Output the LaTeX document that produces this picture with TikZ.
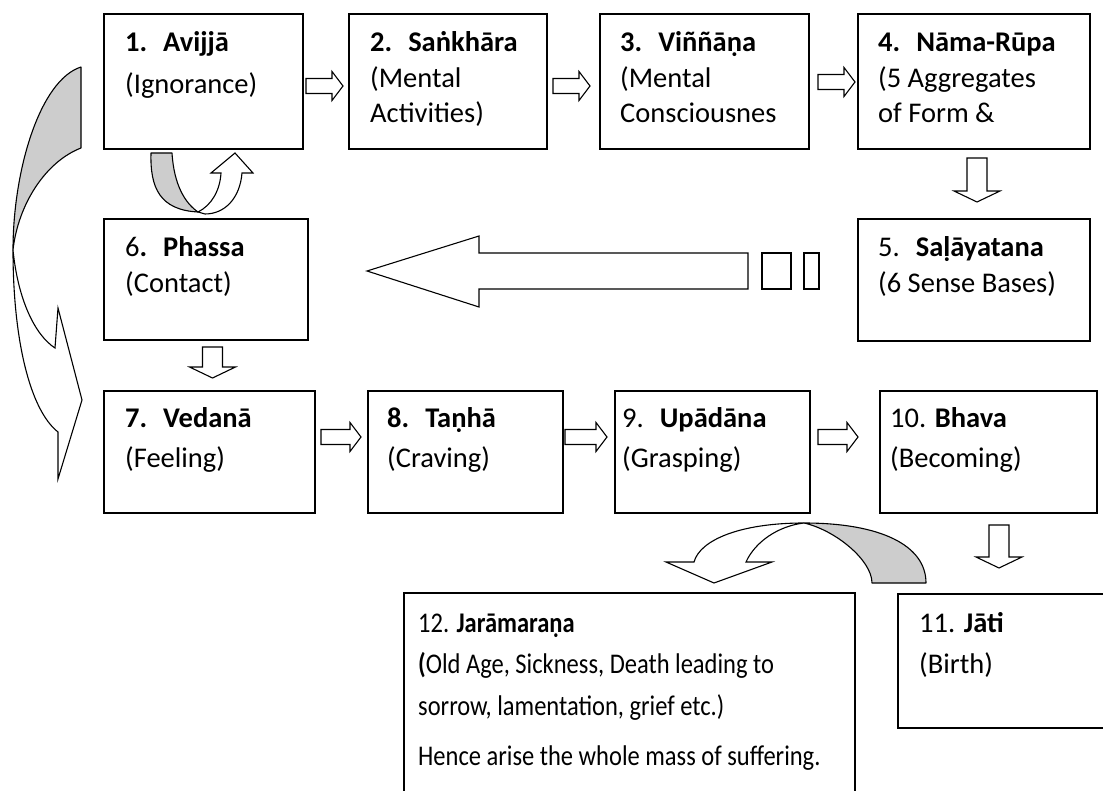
\documentclass[tikz,border=0pt]{standalone}
\usepackage{fontspec}
\setmainfont{Carlito}
\definecolor{bandgray}{RGB}{205,205,205}
\tikzset{
  box/.style={draw, line width=1.6pt, inner sep=0pt, anchor=north west},
  lbl/.style={anchor=base west, inner sep=0pt, font=\fontsize{28.5}{34}\selectfont},
  blk/.style={draw, line width=1.1pt, fill=white, line join=miter},
  band/.style={draw, line width=1.1pt, fill=bandgray, line join=round},
}
\newcommand{\gap}{\hspace{16pt}}
\newcommand{\narrow}[1]{\scalebox{0.86}[1]{#1}}
\newcommand{\rarr}[3]{\draw[blk] (#1,#3-7.5) -- (#2-11,#3-7.5) -- (#2-11,#3-14.5) -- (#2,#3) -- (#2-11,#3+14.5) -- (#2-11,#3+7.5) -- (#1,#3+7.5) -- cycle;}
\newcommand{\darr}[3]{\draw[blk] (#1-10,#2) -- (#1+10,#2) -- (#1+10,#3-11) -- (#1+23,#3-11) -- (#1,#3) -- (#1-23,#3-11) -- (#1-10,#3-11) -- cycle;}
\begin{document}
\begin{tikzpicture}[x=1pt,y=-1pt]
\path[use as bounding box] (0,0) rectangle (1103,791);
\clip (0,0) rectangle (1103,791);
\fill[white] (0,0) rectangle (1103,791);

% boxes
\node[box, minimum width=199, minimum height=135] (b1) at (103,13) {};
\node[box, minimum width=198, minimum height=135] (b2) at (348,13) {};
\node[box, minimum width=209, minimum height=135] (b3) at (599,13) {};
\node[box, minimum width=232, minimum height=135] (b4) at (857,13) {};
\node[box, minimum width=232, minimum height=122] (b5) at (857,218) {};
\node[box, minimum width=204, minimum height=121] (b6) at (103,218) {};
\node[box, minimum width=211, minimum height=122] (b7) at (103,390) {};
\node[box, minimum width=195, minimum height=122] (b8) at (367,390) {};
\node[box, minimum width=195, minimum height=122] (b9) at (614,390) {};
\node[box, minimum width=217, minimum height=122] (b10) at (879,390) {};
\node[box, minimum width=230, minimum height=134] (b11) at (897,593) {};
\node[box, minimum width=451, minimum height=230] (b12) at (403,592) {};

% straight block arrows
\rarr{306}{343}{86}
\rarr{553}{590}{86}
\rarr{818}{855}{82}
\rarr{321}{361}{437}
\rarr{565}{607}{437}
\rarr{818}{858}{437}
\darr{977}{158}{202}
\darr{212.5}{347}{378}
\darr{999}{525}{568}

% long arrow 5 -> 6
\draw[blk] (748,253) -- (479,253) -- (479,236) -- (367,271) -- (479,307) -- (479,289) -- (748,289) -- cycle;
\draw[blk] (762,253) rectangle (791,289);
\draw[blk] (804,253) rectangle (819,289);

% big curved arrow on the left
\draw[band] (81,67) -- (81,148) .. controls (45,162) and (18,205) .. (13,250) .. controls (13,170) and (40,80) .. cycle;
\draw[blk] (13,250) .. controls (18,300) and (35,335) .. (55,348) -- (58,308) -- (82,400) -- (58,479) -- (58,432) .. controls (30,410) and (13,340) .. (13,250) -- cycle;

% U-turn arrow between 1 and 6
\draw[band] (151,153) -- (172,153) .. controls (174,185) and (185,203) .. (198,212) .. controls (160,210) and (150,188) .. cycle;
\draw[blk] (198,212) .. controls (212,205) and (220,190) .. (221,173) -- (211,173) -- (235,153) -- (253,173) -- (242,173) .. controls (240,198) and (225,214) .. (205,214) -- cycle;

% curved arrow 11 -> 12
\draw[band] (872,583) -- (926,583) .. controls (926,545) and (880,523) .. (804,523) .. controls (835,530) and (872,560) .. cycle;
\draw[blk] (804,523) .. controls (740,523) and (700,540) .. (694,562) -- (666,562) -- (714,583) -- (772,562) -- (746,562) .. controls (755,542) and (778,526) .. (804,523) -- cycle;

% texts
\node[lbl] (t1a) at (125,52) {\textbf{1.}\gap\textbf{Avijjā}};
\node[lbl] (t1b) at (125,94) {(Ignorance)};
\node[lbl] (t2a) at (370,52) {\textbf{2.}\gap\textbf{Saṅkhāra}};
\node[lbl] (t2b) at (370,88) {(Mental};
\node[lbl] (t2c) at (370,123) {Activities)};
\node[lbl] (t3a) at (620,52) {\textbf{3.}\gap\textbf{Viññāṇa}};
\node[lbl] (t3b) at (620,88) {(Mental};
\node[lbl] (t3c) at (620,123) {Consciousnes};
\node[lbl] (t4a) at (878,52) {\textbf{4.}\gap\textbf{Nāma-Rūpa}};
\node[lbl] (t4b) at (878,88) {(5 Aggregates};
\node[lbl] (t4c) at (878,123) {of Form \&};
\node[lbl] (t5a) at (878,257) {5.\gap\textbf{Saḷāyatana}};
\node[lbl] (t5b) at (878,293) {(6 Sense Bases)};
\node[lbl] (t6a) at (125,257) {6\textbf{.}\gap\textbf{Phassa}};
\node[lbl] (t6b) at (125,293) {(Contact)};
\node[lbl] (t7a) at (125,428) {\textbf{7.}\gap\textbf{Vedanā}};
\node[lbl] (t7b) at (125,467) {(Feeling)};
\node[lbl] (t8a) at (387,428) {\textbf{8.}\gap\textbf{Taṇhā}};
\node[lbl] (t8b) at (387,467) {(Craving)};
\node[lbl] (t9a) at (622,428) {9.\gap\textbf{Upādāna}};
\node[lbl] (t9b) at (622,467) {(Grasping)};
\node[lbl] (t10a) at (890,428) {10. \textbf{Bhava}};
\node[lbl] (t10b) at (890,467) {(Becoming)};
\node[lbl] (t11a) at (919,632) {11. \textbf{Jāti}};
\node[lbl] (t11b) at (919,673) {(Birth)};
\node[lbl] (t12a) at (418,632) {\narrow{12. \textbf{Jarāmaraṇa}}};
\node[lbl] (t12b) at (418,673) {\narrow{\textbf{(}Old Age, Sickness, Death leading to}};
\node[lbl] (t12c) at (418,715) {\narrow{sorrow, lamentation, grief etc.)}};
\node[lbl] (t12d) at (418,765) {\narrow{Hence arise the whole mass of suffering.}};
\end{tikzpicture}
\end{document}
